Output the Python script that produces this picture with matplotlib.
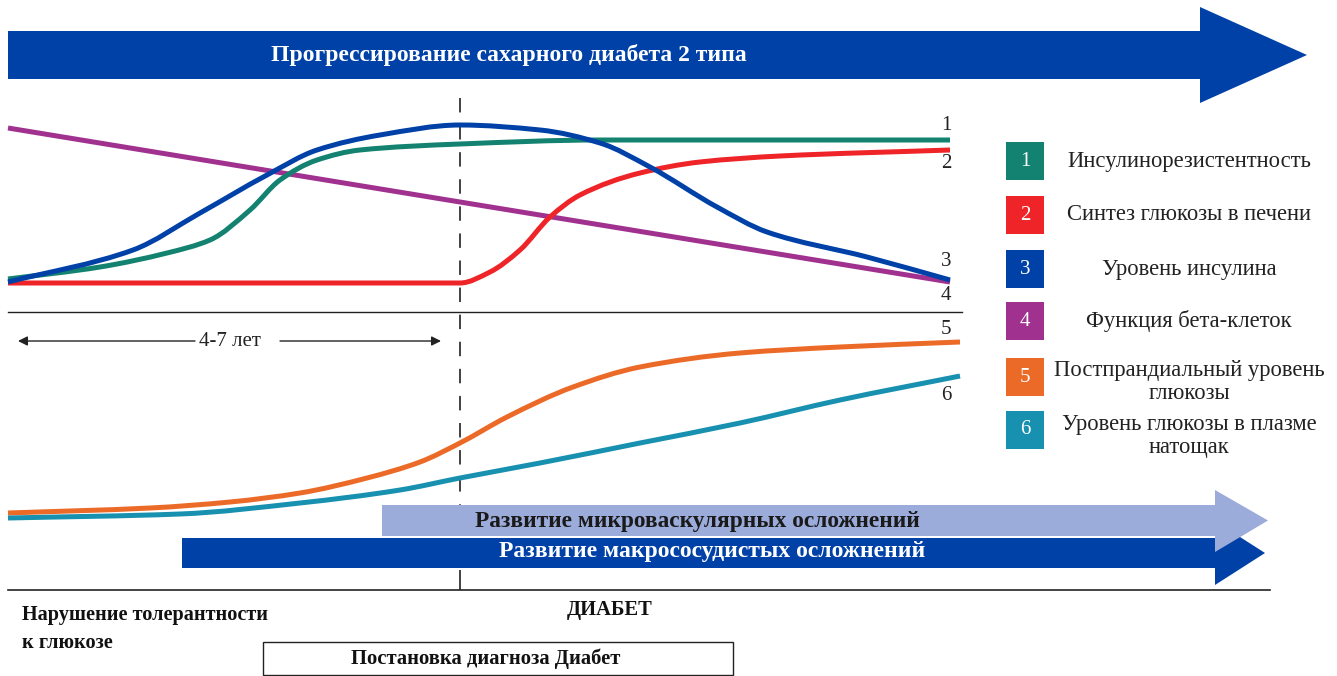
import matplotlib
matplotlib.use("Agg")
import matplotlib.pyplot as plt
from matplotlib.patches import Polygon, Rectangle, PathPatch
from matplotlib.path import Path

# ---------------- data (pixel space) ----------------
insulin_res_x = [8, 100, 167, 210, 250, 280, 317, 360, 460, 600, 950]
insulin_res_y = [279, 267, 253, 240, 210, 180, 160, 150, 144, 140, 140]

liver_x = [8, 440, 460, 490, 520, 550, 580, 640, 700, 780, 950]
liver_y = [283, 283, 283, 272, 250, 217, 195, 173, 162, 156, 150]

insulin_x = [8, 133, 200, 267, 317, 380, 460, 540, 600, 650, 717, 767, 867, 950]
insulin_y = [282, 250, 213, 175, 150, 135, 125, 130, 143, 167, 207, 232, 257, 280]

beta_x = [8, 460, 950]
beta_y = [128, 202, 282]

postprandial_x = [8, 150, 230, 300, 367, 420, 460, 507, 573, 640, 740, 840, 960]
postprandial_y = [513, 508, 502, 493, 478, 462, 443, 417, 387, 367, 353, 347, 342]

fasting_x = [8, 180, 300, 400, 460, 540, 640, 740, 840, 960]
fasting_y = [518, 514, 503, 490, 478, 463, 443, 423, 400, 376]

curve_numbers = ["1", "2", "3", "4", "5", "6"]
curve_number_y = [125, 163, 262, 296, 330, 395]

legend_labels = [
    "Инсулинорезистентность",
    "Синтез глюкозы в печени",
    "Уровень инсулина",
    "Функция бета-клеток",
    "Постпрандиальный уровень\nглюкозы",
    "Уровень глюкозы в плазме\nнатощак",
]
legend_y = [161, 215, 269, 321, 382, 436]
legend_box_y = [161, 215, 269, 321, 377, 430]

colors = ["#138270", "#EE2428", "#0041A8", "#A0318F", "#EC6A28", "#1890B0"]

title_text = "Прогрессирование сахарного диабета 2 типа"
micro_text = "Развитие микроваскулярных осложнений"
macro_text = "Развитие макрососудистых осложнений"
years_text = "4-7 лет"
diabetes_text = "ДИАБЕТ"
igt_text = "Нарушение толерантности\nк глюкозе"
diagnosis_text = "Постановка диагноза Диабет"

# ---------------- figure ----------------
W, H = 1337, 676
fig = plt.figure(figsize=(W / 100, H / 100), dpi=100)
ax = fig.add_axes([0, 0, 1, 1])
ax.set_xlim(0, W)
ax.set_ylim(H, 0)
ax.axis("off")

SERIF = ["Liberation Serif", "DejaVu Serif"]
BLUE = "#0041A8"
LIGHT = "#9BABDA"
INK = "#222222"


def arrow(x0, x1, xtip, ytop, ybot, htop, hbot, color, z):
    ymid = (ytop + ybot) / 2
    pts = [(x0, ytop), (x1, ytop), (x1, htop), (xtip, ymid),
           (x1, hbot), (x1, ybot), (x0, ybot)]
    ax.add_patch(Polygon(pts, closed=True, facecolor=color, edgecolor="none", zorder=z))


def smooth_curve(xs, ys, color, z):
    """Draw the read points as a smooth, shape-preserving cubic Bezier path."""
    n = len(xs)
    h = [xs[i + 1] - xs[i] for i in range(n - 1)]
    d = [(ys[i + 1] - ys[i]) / h[i] for i in range(n - 1)]
    m = [0.0] * n
    m[0], m[-1] = d[0], d[-1]
    for k in range(1, n - 1):
        if d[k - 1] * d[k] <= 0:
            m[k] = 0.0
        else:
            w1 = 2 * h[k] + h[k - 1]
            w2 = h[k] + 2 * h[k - 1]
            m[k] = (w1 + w2) / (w1 / d[k - 1] + w2 / d[k])
    verts = [(xs[0], ys[0])]
    codes = [Path.MOVETO]
    for i in range(n - 1):
        dx = h[i] / 3
        verts += [(xs[i] + dx, ys[i] + m[i] * dx),
                  (xs[i + 1] - dx, ys[i + 1] - m[i + 1] * dx),
                  (xs[i + 1], ys[i + 1])]
        codes += [Path.CURVE4] * 3
    ax.add_patch(PathPatch(Path(verts, codes), facecolor="none", edgecolor=color,
                           lw=3.6, capstyle="butt", joinstyle="round", zorder=z))


# top arrow
arrow(8, 1200, 1307, 31, 79, 7, 103, BLUE, 2)
ax.text(509, 55, title_text, color="white", fontsize=17, fontweight="bold",
        family=SERIF, ha="center", va="center", zorder=3)

# dashed diagnosis line (hidden behind the complication arrows)
ax.plot([460, 460], [98, 505], color="#333333", lw=1.3, dashes=(8, 7), zorder=0.5)
ax.plot([460, 460], [570, 590], color="#333333", lw=1.3, dashes=(15, 1), zorder=0.5)

# separator lines
ax.plot([8, 962], [312, 312], color=INK, lw=1.0, zorder=1)
ax.plot([8, 1270], [590, 590], color=INK, lw=1.2, zorder=1)

# curves
series = [(insulin_res_x, insulin_res_y), (liver_x, liver_y), (insulin_x, insulin_y),
          (beta_x, beta_y), (postprandial_x, postprandial_y), (fasting_x, fasting_y)]
order = [3, 1, 0, 2, 4, 5]
for k, i in enumerate(order):
    xs, ys = series[i]
    smooth_curve(xs, ys, colors[i], 4 + k * 0.01)

for lab, y in zip(curve_numbers, curve_number_y):
    ax.text(946, y, lab, fontsize=15, family=SERIF, ha="center", va="center",
            color=INK, zorder=5)

# legend
for i, (lab, y) in enumerate(zip(legend_labels, legend_y)):
    sy = legend_box_y[i]
    ax.add_patch(Rectangle((1006, sy - 19), 38, 38, facecolor=colors[i],
                           edgecolor="none", zorder=3))
    ax.text(1025, sy, curve_numbers[i], color="white", fontsize=15, family=SERIF,
            ha="center", va="center", zorder=4)
    ax.text(1189, y, lab, fontsize=16.3, family=SERIF, ha="center", va="center",
            color=INK, linespacing=1.08, zorder=4)

# 4-7 years
ax.annotate("", xy=(18, 341), xytext=(195, 341),
            arrowprops=dict(arrowstyle="-|>", color=INK, lw=1.0,
                            mutation_scale=14, shrinkA=0, shrinkB=0))
ax.annotate("", xy=(441, 341), xytext=(280, 341),
            arrowprops=dict(arrowstyle="-|>", color=INK, lw=1.0,
                            mutation_scale=14, shrinkA=0, shrinkB=0))
ax.text(230, 341, years_text, fontsize=15, family=SERIF, ha="center", va="center",
        color=INK)

# complication arrows
arrow(182, 1215, 1265, 538, 568, 521, 585, BLUE, 2)
arrow(382, 1215, 1268, 505, 536, 490, 552, LIGHT, 3)
ax.text(697, 521, micro_text, color="#1a1a1a", fontsize=16.8, fontweight="bold",
        family=SERIF, ha="center", va="center", zorder=4)
ax.text(712, 552, macro_text, color="white", fontsize=17.0, fontweight="bold",
        family=SERIF, ha="center", va="center", zorder=4)

# bottom labels
ax.text(610, 610, diabetes_text, fontsize=14.8, fontweight="bold", family=SERIF,
        ha="center", va="center", color="#111111")
ax.text(22, 629, igt_text, fontsize=14.6, fontweight="bold", family=SERIF,
        ha="left", va="center", color="#111111", linespacing=1.5)
ax.add_patch(Rectangle((263, 642), 470, 33, facecolor="white", edgecolor=INK,
                       lw=1.0, zorder=2))
ax.text(486, 659, diagnosis_text, fontsize=14.9, fontweight="bold", family=SERIF,
        ha="center", va="center", color="#111111", zorder=3)

fig.savefig("out.png", dpi=100)
